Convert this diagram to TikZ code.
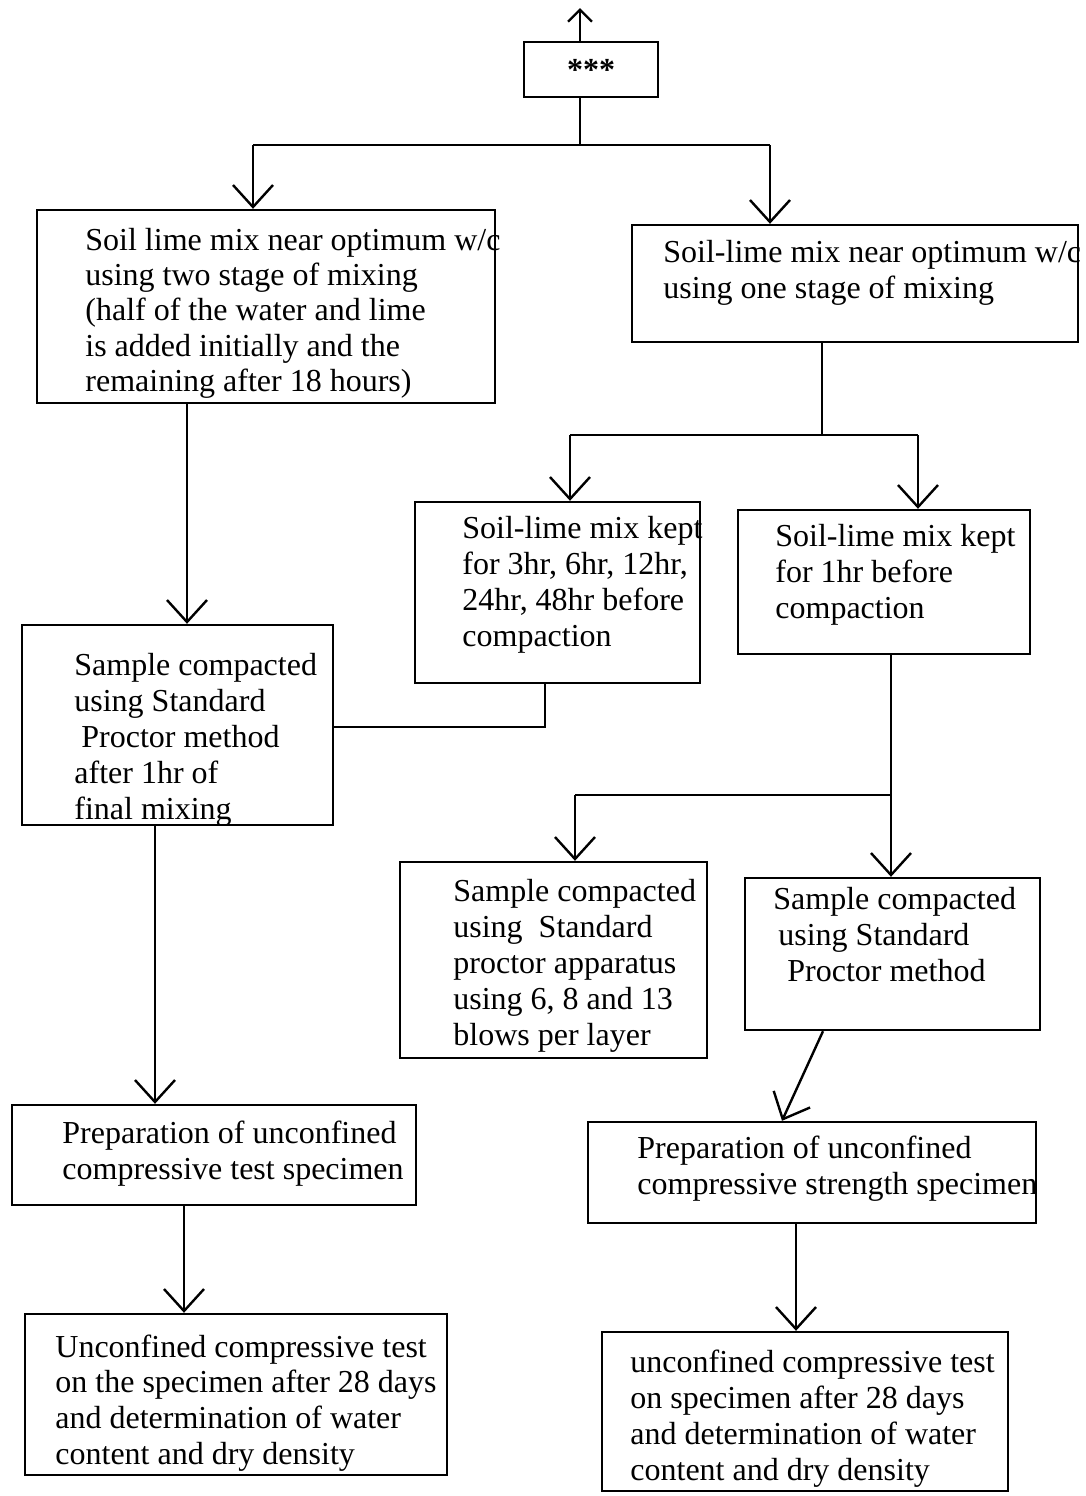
\documentclass[tikz,border=0pt]{standalone}
\usepackage{fontspec}
\setmainfont{Liberation Serif}
\usetikzlibrary{arrows.meta}
\newcommand{\boxfont}{\fontsize{16}{18}\selectfont}
\begin{document}
\begin{tikzpicture}[x=0.5pt,y=-0.5pt,
  box/.style={draw, line width=1.2pt, rectangle, inner sep=0pt},
  txt/.style={anchor=north west, inner sep=0pt, align=left, font=\boxfont},
  conn/.style={line width=1.2pt},
  arr/.style={line width=1.2pt, -{Straight Barb[length=11pt,width=20pt]}},
  arrsmall/.style={line width=1.2pt, -{Straight Barb[length=6pt,width=12pt]}}]
\useasboundingbox (0,0) rectangle (1086,1496);
% boxes
\node[box, minimum width=67pt, minimum height=27.5pt, font=\boxfont\bfseries] (top) at (591,69.5) {\raisebox{-1.5pt}{***}};
\node[box, minimum width=229pt, minimum height=96.5pt] (b1) at (266,306.5) {};
\node[box, minimum width=223pt, minimum height=58.5pt] (b2) at (855,283.5) {};
\node[box, minimum width=142.5pt, minimum height=90.5pt] (b3) at (557.5,592.5) {};
\node[box, minimum width=146pt, minimum height=72pt] (b4) at (884,582) {};
\node[box, minimum width=155.5pt, minimum height=100pt] (b5) at (177.5,725) {};
\node[box, minimum width=153.5pt, minimum height=98pt] (b6) at (553.5,960) {};
\node[box, minimum width=147.5pt, minimum height=76pt] (b7) at (892.5,954) {};
\node[box, minimum width=202pt, minimum height=50pt] (b8) at (214,1155) {};
\node[box, minimum width=224pt, minimum height=50.5pt] (b9) at (812,1172.5) {};
\node[box, minimum width=211pt, minimum height=80.5pt] (b10) at (236,1394.5) {};
\node[box, minimum width=203pt, minimum height=79.5pt] (b11) at (805,1411.5) {};
% texts
\node[txt, font=\fontsize{16}{17.7}\selectfont] (t1) at (85,225) {\strut Soil lime mix near optimum w/c\\using two stage of mixing\\(half of the water and lime\\is added initially and the\\remaining after 18 hours)};
\node[txt] (t2) at (663,237) {\strut Soil-lime mix near optimum w/c\\using one stage of mixing};
\node[txt] (t3) at (462,513) {\strut Soil-lime mix kept\\for 3hr, 6hr, 12hr,\\24hr, 48hr before\\compaction};
\node[txt] (t4) at (775,521) {\strut Soil-lime mix kept\\for 1hr before\\compaction};
\node[txt] (t5) at (74,650) {\strut Sample compacted\\using Standard\\\hspace{3.5pt}Proctor method\\after 1hr of\\final mixing};
\node[txt] (t6) at (453,876) {\strut Sample compacted\\using~ Standard\\proctor apparatus\\using 6, 8 and 13\\blows per layer};
\node[txt] (t7) at (773,884) {\strut Sample compacted\\\hspace{2.5pt}using Standard\\\hspace{7pt}Proctor method};
\node[txt] (t8) at (62,1118) {\strut Preparation of unconfined\\compressive test specimen};
\node[txt] (t9) at (637,1133) {\strut Preparation of unconfined\\compressive strength specimen};
\node[txt, font=\fontsize{16}{17.8}\selectfont] (t10) at (55,1332) {\strut Unconfined compressive test\\on the specimen after 28 days\\and determination of water\\content and dry density};
\node[txt] (t11) at (630,1347) {\strut unconfined compressive test\\on specimen after 28 days\\and determination of water\\content and dry density};
% connectors
\coordinate (upend) at (580,8);
\draw[arrsmall] (top.north -| upend) -- (upend);
\coordinate (j1) at (580,145);
\coordinate (a1) at (253,145);
\coordinate (a2) at (770,145);
\draw[conn] (top.south -| j1) -- (j1);
\draw[conn] (a1) -- (a2);
\draw[arr] (a1) -- (a1 |- b1.north);
\draw[arr] (a2) -- (a2 |- b2.north);
\coordinate (j2) at (822,435);
\coordinate (a3) at (570,435);
\coordinate (a4) at (918,435);
\draw[conn] (j2 |- b2.south) -- (j2);
\draw[conn] (a3) -- (a4);
\draw[arr] (a3) -- (a3 |- b3.north);
\draw[arr] (a4) -- (a4 |- b4.north);
\coordinate (a5) at (187,0);
\draw[arr] (a5 |- b1.south) -- (a5 |- b5.north);
\coordinate (a6) at (545,727);
\draw[conn] (a6 |- b3.south) -- (a6) -- (b5.east |- a6);
\coordinate (j3) at (891,795);
\coordinate (a7) at (575,795);
\draw[arr] (j3 |- b4.south) -- (j3 |- b7.north);
\draw[conn] (j3) -- (a7);
\draw[arr] (a7) -- (a7 |- b6.north);
\coordinate (a8) at (155,0);
\draw[arr] (a8 |- b5.south) -- (a8 |- b8.north);
\coordinate (c7) at (823,0);
\coordinate (c9) at (782,0);
\draw[arr] (c7 |- b7.south) -- (c9 |- b9.north);
\coordinate (a9) at (184,0);
\draw[arr] (a9 |- b8.south) -- (a9 |- b10.north);
\coordinate (a10) at (796,0);
\draw[arr] (a10 |- b9.south) -- (a10 |- b11.north);
\end{tikzpicture}
\end{document}
